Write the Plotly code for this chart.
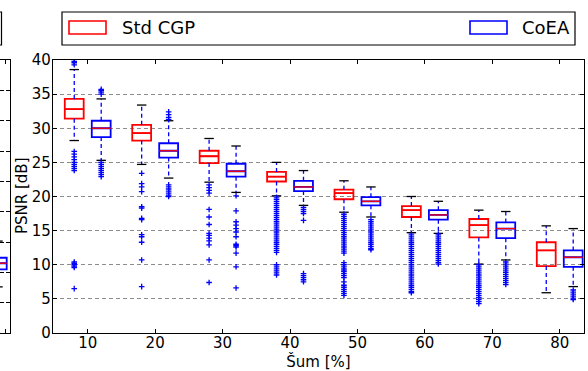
import plotly.graph_objects as go

W, H = 588, 371

noise = [10, 20, 30, 40, 50, 60, 70, 80]

# Std CGP box statistics (PSNR dB)
cgp_q1 = [31.4, 28.2, 24.9, 22.2, 19.6, 17.0, 14.0, 9.8]
cgp_med = [32.8, 29.3, 25.9, 22.9, 20.5, 18.0, 15.8, 12.1]
cgp_q3 = [34.3, 30.5, 26.7, 23.6, 21.0, 18.6, 16.7, 13.3]
cgp_lo = [28.2, 24.7, 22.1, 20.1, 17.7, 14.7, 10.1, 5.9]
cgp_hi = [38.6, 33.4, 28.5, 25.0, 22.3, 20.0, 18.0, 15.7]
cgp_out = [
    [39.8, 39.6, 39.3, 26.6, 26.2, 25.8, 25.4, 25.0, 24.7, 24.4, 24.1, 23.8, 10.4, 10.2, 10.0, 9.8, 9.6, 6.5],
    [23.4, 21.9, 21.4, 20.7, 18.5, 18.3, 16.8, 16.6, 14.4, 14.1, 13.3, 10.7, 6.8],
    [21.7, 21.3, 20.9, 20.5, 18.1, 17.0, 15.9, 14.6, 14.3, 13.9, 13.5, 12.9, 10.7, 7.4],
    [19.9, 19.6, 19.3, 19.0, 18.7, 18.4, 18.1, 17.8, 17.5, 17.2, 16.9, 16.6, 16.3, 16.0, 15.7, 15.4,
     15.1, 14.8, 14.5, 14.2, 13.9, 13.6, 13.3, 13.0, 12.7, 12.4, 12.1, 11.8, 10.0, 9.7, 9.4, 9.1, 8.8, 8.5],
    [17.4, 17.1, 16.8, 16.5, 16.2, 15.9, 15.6, 15.3, 15.0, 14.7, 14.4, 14.1, 13.8, 13.5, 13.2, 12.9,
     12.6, 12.3, 12.0, 11.7, 10.3, 10.0, 9.7, 9.4, 9.2, 9.0, 8.7, 8.4, 8.1, 7.5, 7.0, 6.7, 6.4, 6.1, 5.8, 5.5],
    [14.5, 14.2, 13.9, 13.6, 13.3, 13.0, 12.7, 12.4, 12.1, 11.8, 11.5, 11.2, 10.9, 10.6, 10.3, 10.0,
     9.7, 9.4, 9.1, 8.8, 8.5, 8.2, 7.9, 7.6, 7.3, 7.0, 6.7, 6.4, 6.1, 5.9],
    [10.0, 9.7, 9.4, 9.1, 8.8, 8.5, 8.2, 7.9, 7.6, 7.3, 7.0, 6.7, 6.4, 6.1, 5.8, 5.5, 5.2, 4.9, 4.6, 4.3],
    [],
]

# CoEA box statistics (PSNR dB)
coea_q1 = [28.7, 25.7, 22.9, 20.8, 18.7, 16.6, 13.9, 9.7]
coea_med = [30.0, 26.7, 23.7, 21.4, 19.3, 17.3, 15.3, 11.1]
coea_q3 = [31.1, 27.8, 24.8, 22.3, 19.9, 18.0, 16.2, 12.1]
coea_lo = [25.3, 22.7, 20.6, 18.7, 17.0, 14.6, 10.7, 6.8]
coea_hi = [34.3, 31.1, 27.4, 23.8, 21.4, 19.3, 17.8, 15.3]
coea_out = [
    [35.7, 35.5, 35.3, 35.0, 25.0, 24.7, 24.4, 24.1, 23.8, 23.5, 23.2, 22.9],
    [32.4, 32.0, 31.6, 31.3, 21.7, 21.4, 21.1, 20.8, 20.5, 20.2, 20.0],
    [20.1, 17.9, 16.3, 15.8, 15.3, 14.8, 14.1, 13.0, 12.8, 12.6, 11.7, 9.7, 6.6],
    [18.4, 18.1, 17.8, 17.5, 16.5, 8.7, 8.4, 8.1, 7.8, 7.5],
    [16.6, 16.3, 16.0, 15.7, 15.4, 15.1, 14.8, 14.5, 14.2, 13.9, 13.6, 13.3, 13.0, 12.7, 12.4, 12.2],
    [14.5, 14.2, 13.9, 13.6, 13.3, 13.0, 12.7, 12.4, 12.1, 11.8, 11.5, 11.2, 10.9, 10.6, 10.3, 10.1],
    [10.4, 10.1, 9.8, 9.5, 9.2, 8.9, 8.6, 8.3, 8.0, 7.7, 7.4, 7.1],
    [6.3, 6.0, 5.7, 5.4, 5.1, 4.9],
]

# neighbouring (cut off) panel on the left
side_pos = [-1.3]
side_q1 = [2.1]
side_med = [2.3]
side_q3 = [2.48]
side_lo = [1.52]
side_hi = [3.03]

RED = '#ff0000'
BLUE = '#0000ff'
FONT = 'DejaVu Sans'

fig = go.Figure()


def add_boxes(pos, q1, med, q3, lo, hi, fliers, color, width, xa='x', ya='y'):
    wx, wy, cx, cy, mx, my, fx, fy = [], [], [], [], [], [], [], []
    for i, p in enumerate(pos):
        wx += [p, p, None, p, p, None]
        wy += [q3[i], hi[i], None, q1[i], lo[i], None]
        cx += [p - width / 4, p + width / 4, None, p - width / 4, p + width / 4, None]
        cy += [hi[i], hi[i], None, lo[i], lo[i], None]
        mx += [p - width / 2, p + width / 2, None]
        my += [med[i], med[i], None]
        if fliers:
            fx += [p] * len(fliers[i])
            fy += fliers[i]
    fig.add_trace(go.Scatter(x=wx, y=wy, mode='lines', xaxis=xa, yaxis=ya, hoverinfo='skip',
                             line=dict(color=BLUE, width=1.3, dash='4px,3px'), showlegend=False))
    fig.add_trace(go.Box(x=pos, q1=q1, median=med, q3=q3, lowerfence=q1, upperfence=q3,
                         width=width, xaxis=xa, yaxis=ya, boxpoints=False, hoverinfo='skip',
                         line=dict(color=color, width=1.8), fillcolor='rgba(0,0,0,0)',
                         showlegend=False))
    fig.add_trace(go.Scatter(x=mx, y=my, mode='lines', xaxis=xa, yaxis=ya, hoverinfo='skip',
                             line=dict(color=RED, width=1.3), showlegend=False))
    fig.add_trace(go.Scatter(x=cx, y=cy, mode='lines', xaxis=xa, yaxis=ya, hoverinfo='skip',
                             line=dict(color='black', width=1.3), showlegend=False))
    if fx:
        fig.add_trace(go.Scatter(x=fx, y=fy, mode='markers', xaxis=xa, yaxis=ya, hoverinfo='skip',
                                 marker=dict(symbol='cross-thin', size=4, line=dict(color=BLUE, width=1.3)),
                                 showlegend=False))


BW = 2.8
add_boxes([n - 2 for n in noise], cgp_q1, cgp_med, cgp_q3, cgp_lo, cgp_hi, cgp_out, RED, BW)
add_boxes([n + 2 for n in noise], coea_q1, coea_med, coea_q3, coea_lo, coea_hi, coea_out, BLUE, BW)
add_boxes(side_pos, side_q1, side_med, side_q3, side_lo, side_hi, None, BLUE, 16, xa='x2', ya='y2')

ydom = [38 / H, 311 / H]
axis_common = dict(showline=True, linecolor='black', linewidth=1.3, mirror='ticks', ticks='inside',
                   ticklen=4, tickcolor='black', zeroline=False)

fig.update_layout(
    width=W, height=H,
    margin=dict(l=0, r=0, t=0, b=0),
    paper_bgcolor='white', plot_bgcolor='white',
    font=dict(family=FONT, size=15, color='black'),
    xaxis=dict(domain=[53 / W, 584 / W], range=[4.85, 83.6], tickvals=noise, showgrid=False,
               tickfont=dict(size=15), ticklabelstandoff=-4,
               title=dict(text='Šum [%]', font=dict(size=15), standoff=6),
               automargin=False, **axis_common),
    yaxis=dict(domain=ydom, range=[0, 40], dtick=5, showgrid=True, gridcolor='#8c8c8c',
               griddash='4px,3px', gridwidth=1, tickfont=dict(size=15), ticklabelstandoff=-2,
               automargin=False, **axis_common),
    xaxis2=dict(domain=[0, 10 / W], range=[0, 10], showticklabels=False, showgrid=False,
                anchor='y2', automargin=False, **axis_common),
    yaxis2=dict(domain=ydom, range=[0, 9], dtick=1, showticklabels=False, showgrid=True,
                gridcolor='#8c8c8c', griddash='4px,3px', anchor='x2', automargin=False, **axis_common),
)


# legend (expanded, matplotlib style) drawn in paper space
def px(x):
    return x / W


def py(y):
    return 1 - y / H


shapes = [
    dict(type='rect', xref='paper', yref='paper', x0=px(62), x1=px(575), y0=py(45), y1=py(12),
         line=dict(color='black', width=1.2)),
    dict(type='rect', xref='paper', yref='paper', x0=px(69), x1=px(106), y0=py(34), y1=py(21),
         line=dict(color=RED, width=1.6)),
    dict(type='rect', xref='paper', yref='paper', x0=px(470), x1=px(507), y0=py(34), y1=py(21),
         line=dict(color=BLUE, width=1.6)),
    dict(type='rect', xref='paper', yref='paper', x0=px(-20), x1=px(1.5), y0=py(45), y1=py(12),
         line=dict(color='black', width=1.2)),
]
fig.update_layout(shapes=shapes)
fig.add_annotation(xref='paper', yref='paper', x=px(120), y=py(28), text='Std CGP', showarrow=False,
                   xanchor='left', yanchor='middle', font=dict(size=18, family=FONT))
fig.add_annotation(xref='paper', yref='paper', x=px(520), y=py(28), text='CoEA', showarrow=False,
                   xanchor='left', yanchor='middle', font=dict(size=18, family=FONT))
# y axis title
fig.add_annotation(xref='paper', yref='paper', x=px(22), y=py(196), text='PSNR [dB]', showarrow=False,
                   textangle=-90, xanchor='center', yanchor='middle', font=dict(size=15, family=FONT))

fig.write_html("out.html", post_script="document.body.style.margin='0';",
               config={'displayModeBar': False})
